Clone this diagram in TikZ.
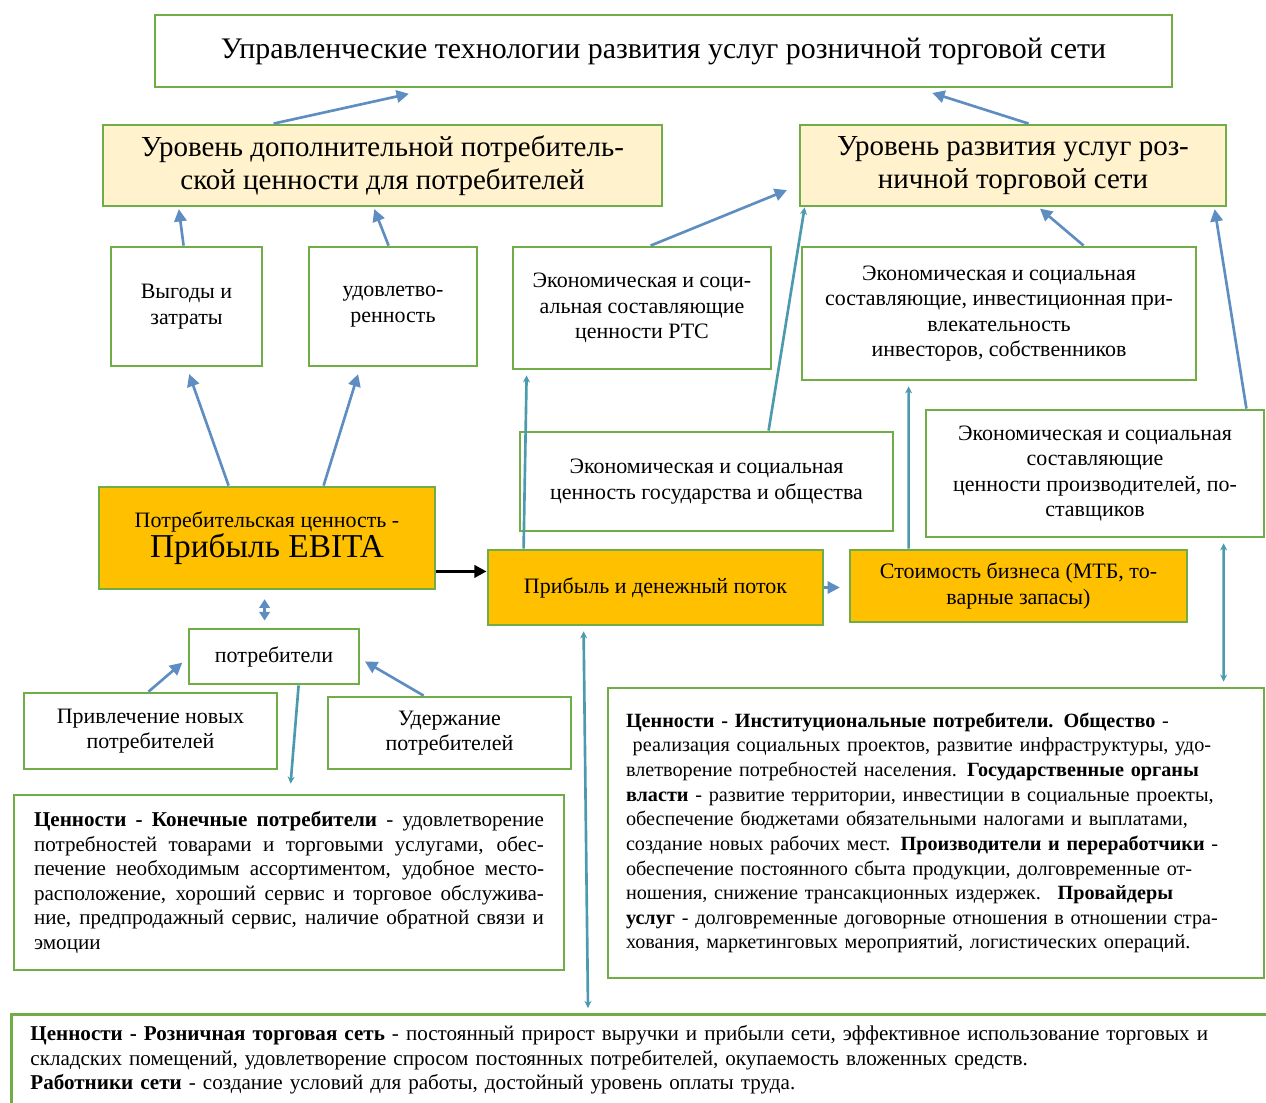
\documentclass[tikz,border=0pt]{standalone}
\usepackage{fontspec}
\setmainfont{Liberation Serif}
\usepackage{tikz}
\usetikzlibrary{positioning,arrows.meta,calc}
\definecolor{BoxGreen}{HTML}{70AD47}
\definecolor{LevelBg}{HTML}{FFF2CC}
\definecolor{CoreOrange}{HTML}{FFC000}
\definecolor{ArrowBlue}{HTML}{5E8DC2}
\definecolor{LinkTeal}{HTML}{4C9AAE}

\tikzset{
  box/.style={draw=BoxGreen, line width=1.6pt, fill=white, align=center,
              inner sep=2pt, font=\fontsize{12.5}{14.5}\selectfont},
  levelbox/.style={box, fill=LevelBg, font=\fontsize{16.5}{18.5}\selectfont},
  corebox/.style={box, fill=CoreOrange},
  textbox/.style={box, align=justify, font=\fontsize{12}{14}\selectfont},
  arr/.style={draw=ArrowBlue, line width=1.5pt,
              -{Triangle[length=7pt,width=7pt]}, shorten >=1pt},
  link/.style={draw=LinkTeal, line width=1.5pt,
               -{Stealth[length=4pt,width=4pt]}},
  twolink/.style={link, {Stealth[length=4pt,width=4pt]}-{Stealth[length=4pt,width=4pt]}}
}

\begin{document}
\begin{tikzpicture}
  \useasboundingbox[fill=white] (0,0) rectangle (25.32,-22.04);

  % top level
  \node[box, minimum width=20.34cm, minimum height=1.44cm,
        font=\fontsize{17}{20}\selectfont] (title) at (13.27,-1.02)
    {Управленческие технологии развития услуг розничной торговой сети};
  \node[levelbox, minimum width=11.18cm, minimum height=1.62cm] (lvlcons) at (7.65,-3.31)
    {Уровень дополнительной потребитель-\\ской ценности для потребителей};
  \node[levelbox, minimum width=8.52cm, minimum height=1.62cm] (lvlnet) at (20.26,-3.31)
    {Уровень развития услуг роз-\\ничной торговой сети};

  % value components
  \node[box, minimum width=3.02cm, minimum height=2.38cm] (benefit) at (3.73,-6.13)
    {Выгоды и\\затраты};
  \node[box, minimum width=3.36cm, minimum height=2.38cm] (satisf) at (7.86,-6.13)
    {удовлетво-\\ренность};
  \node[box, minimum width=5.16cm, minimum height=2.44cm] (rtc) at (12.84,-6.16)
    {Экономическая и соци-\\альная составляющие\\ценности РТС};
  \node[box, minimum width=7.88cm, minimum height=2.66cm] (invest) at (19.98,-6.27)
    {Экономическая и социальная\\составляющие, инвестиционная при-\\влекательность\\инвесторов, собственников};
  \node[box, minimum width=7.46cm, minimum height=1.98cm] (state) at (14.13,-9.63)
    {Экономическая и социальная\\ценность государства и общества};
  \node[box, minimum width=6.76cm, minimum height=2.54cm] (prod) at (21.9,-9.47)
    {Экономическая и социальная\\составляющие\\ценности производителей, по-\\ставщиков};

  % core chain
  \node[corebox, minimum width=6.72cm, minimum height=2.04cm] (ebita) at (5.34,-10.76)
    {Потребительская ценность -\\{\fontsize{19}{22}\selectfont Прибыль EBITA}};
  \node[corebox, minimum width=6.70cm, minimum height=1.5cm] (profit) at (13.11,-11.75)
    {Прибыль и денежный поток};
  \node[corebox, minimum width=6.74cm, minimum height=1.44cm] (bizvalue) at (20.37,-11.72)
    {Стоимость бизнеса (МТБ, то-\\варные запасы)};

  % consumers
  \node[box, minimum width=3.4cm, minimum height=1.1cm] (cons) at (5.48,-13.13)
    {потребители};
  \node[box, minimum width=5.06cm, minimum height=1.52cm] (attract) at (3.01,-14.62)
    {Привлечение новых\\потребителей};
  \node[box, minimum width=4.86cm, minimum height=1.44cm] (retain) at (8.99,-14.66)
    {Удержание\\потребителей};

  % value descriptions
  \node[textbox, minimum width=11.0cm, minimum height=3.5cm, text width=10.2cm] (endcons) at (5.78,-17.65)
    {\textbf{Ценности - Конечные потребители} - удовлетворение\linebreak
     потребностей товарами и торговыми услугами, обес-\linebreak
     печение необходимым ассортиментом, удобное место-\linebreak
     расположение, хороший сервис и торговое обслужива-\linebreak
     ние, предпродажный сервис, наличие обратной связи и\linebreak
     эмоции};
  \node[textbox, align=left, minimum width=13.12cm, minimum height=5.8cm, text width=12.4cm,
        font=\fontsize{11.5}{14}\selectfont] (inst) at (18.72,-16.66)
    {\textbf{Ценности - Институциональные потребители. Общество} -\\
     \ реализация социальных проектов, развитие инфраструктуры, удо-\\
     влетворение потребностей населения. \textbf{Государственные органы}\\
     \textbf{власти} - развитие территории, инвестиции в социальные проекты,\\
     обеспечение бюджетами обязательными налогами и выплатами,\\
     создание новых рабочих мест. \textbf{Производители и переработчики} -\\
     обеспечение постоянного сбыта продукции, долговременные от-\\
     ношения, снижение трансакционных издержек. \ \textbf{Провайдеры}\\
     \textbf{услуг} - долговременные договорные отношения в отношении стра-\\
     хования, маркетинговых мероприятий, логистических операций.};
  \node[textbox, align=left, anchor=north west, text width=24.4cm,
        inner xsep=0.38cm, inner ysep=0.22cm] (retail) at (0.2,-20.26)
    {\textbf{Ценности - Розничная торговая сеть} - постоянный прирост выручки и прибыли сети, эффективное использование торговых и\\
     складских помещений, удовлетворение спросом постоянных потребителей, окупаемость вложенных средств.\\
     \textbf{Работники сети} - создание условий для работы, достойный уровень оплаты труда.};

  % arrows up to the top level
  \draw[arr] ([xshift=3.44cm]lvlcons.north west) -- ([xshift=5.14cm,yshift=-0.1cm]title.south west);
  \draw[arr] ([xshift=4.6cm]lvlnet.north west) -- ([xshift=15.54cm,yshift=-0.08cm]title.south west);
  \draw[arr] ([xshift=1.48cm]benefit.north west) -- ([xshift=1.54cm]lvlcons.south west);
  \draw[arr] ([xshift=1.62cm]satisf.north west) -- ([xshift=5.44cm]lvlcons.south west);
  \draw[arr] ([xshift=2.78cm]rtc.north west) -- ([xshift=-0.2cm,yshift=0.36cm]lvlnet.south west);
  \draw[arr] ([xshift=5.66cm]invest.north west) -- ([xshift=4.8cm]lvlnet.south west);
  \draw[arr] ([xshift=-0.38cm]prod.north east) -- ([xshift=-0.26cm]lvlnet.south east);
  \draw[link] ([xshift=5.0cm]state.north west) -- ([xshift=0.12cm]lvlnet.south west);
  \draw[arr] ([xshift=2.62cm]ebita.north west) -- ([xshift=1.58cm,yshift=-0.1cm]benefit.south west);
  \draw[arr] ([xshift=4.52cm]ebita.north west) -- ([xshift=1.02cm,yshift=-0.1cm]satisf.south west);

  % links of the core chain
  \draw[link] ([xshift=0.74cm]profit.north west) -- ([xshift=0.3cm,yshift=-0.1cm]rtc.south west);
  \draw[link] ([xshift=1.2cm]bizvalue.north west) -- ([xshift=2.16cm,yshift=-0.1cm]invest.south west);
  \draw[twolink] ([xshift=5.98cm,yshift=-0.1cm]prod.south west) -- ([xshift=12.34cm,yshift=0.1cm]inst.north west);
  \draw[twolink] ([xshift=1.94cm,yshift=-0.1cm]profit.south west) -- ([xshift=11.56cm,yshift=0.1cm]retail.north west);
  \draw[-{Triangle[length=7pt,width=7pt]}, line width=1.8pt] ([yshift=0.38cm]ebita.south east) -- ([yshift=0.38cm]ebita.south east -| profit.west);
  \draw[arr, shorten >=5pt] (profit.east) -- (profit.east -| bizvalue.west);
  \draw[arr, {Triangle[length=5pt,width=6pt]}-{Triangle[length=5pt,width=6pt]}, shorten <=5pt, shorten >=4pt]
    ([xshift=3.34cm]ebita.south west) -- ([xshift=1.54cm]cons.north west);

  % consumers
  \draw[link] ([xshift=2.22cm]cons.south west) -- ([xshift=5.56cm,yshift=0.2cm]endcons.north west);
  \draw[arr] ([xshift=2.52cm]attract.north west) -- ([xshift=-0.08cm,yshift=-0.1cm]cons.west);
  \draw[arr] ([xshift=1.94cm]retain.north west) -- ([xshift=0.06cm,yshift=-0.08cm]cons.east);
\end{tikzpicture}
\end{document}
